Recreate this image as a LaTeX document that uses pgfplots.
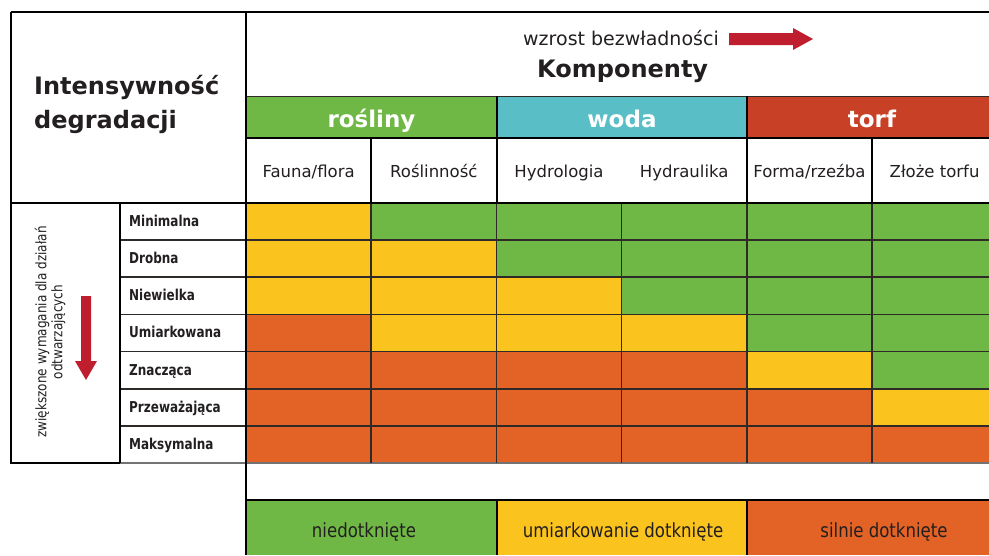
\documentclass[border=0pt]{standalone}
\usepackage{pgfplots}
\pgfplotsset{compat=1.18}
\usepackage{pgfplotstable}
\usepackage{graphicx}
\usepackage{fontspec}
\setmainfont{DejaVu Sans}
\definecolor{cgreen}{RGB}{111,184,69}
\definecolor{cyellow}{RGB}{250,195,29}
\definecolor{corange}{RGB}{226,99,37}
\definecolor{cteal}{RGB}{90,190,198}
\definecolor{cred}{RGB}{200,64,38}
\definecolor{carrow}{RGB}{190,30,45}
\definecolor{ctext}{RGB}{35,31,32}
\definecolor{cgrid}{RGB}{45,42,40}
\newcommand{\fs}[1]{\fontsize{#1}{#1}\selectfont}
\newcommand{\rowlab}[2]{\node[anchor=base west, inner sep=0pt, text=ctext, font=\bfseries\fs{15}] at (129,{203+37.14*(#1+0.5)+5}) {\scalebox{0.8}[1]{#2}};}
\newcommand{\colhead}[2]{\node[anchor=base, inner sep=0pt, text=ctext, font=\fs{16.5}] at (#1,177) {#2};}
% v: 0 = niedotknięte, 1 = umiarkowanie dotknięte, 2 = silnie dotknięte
\pgfplotstableread{
col row v
0 0 1
1 0 0
2 0 0
3 0 0
4 0 0
5 0 0
0 1 1
1 1 1
2 1 0
3 1 0
4 1 0
5 1 0
0 2 1
1 2 1
2 2 1
3 2 0
4 2 0
5 2 0
0 3 2
1 3 1
2 3 1
3 3 1
4 3 0
5 3 0
0 4 2
1 4 2
2 4 2
3 4 2
4 4 1
5 4 0
0 5 2
1 5 2
2 5 2
3 5 2
4 5 2
5 5 1
0 6 2
1 6 2
2 6 2
3 6 2
4 6 2
5 6 2
}\status
\begin{document}
\begin{tikzpicture}
\begin{axis}[
  scale only axis, width=989pt, height=555pt,
  xmin=0, xmax=989, ymin=0, ymax=555, y dir=reverse,
  hide axis, clip=true,
  colormap={status}{rgb255=(111,184,69) rgb255=(250,195,29) rgb255=(226,99,37)},
  colormap access=direct,
]
\path (0,0) rectangle (989,555);
\addplot[matrix plot*, mesh/cols=6, point meta=explicit]
  table[x expr={246+125.2*(\thisrow{col}+0.5)}, y expr={203+37.14*(\thisrow{row}+0.5)}, meta=v] {\status};

% header bands
\fill[cgreen] (246,96) rectangle (497,138);
\fill[cteal] (497,96) rectangle (747,138);
\fill[cred] (747,96) rectangle (989,138);
\draw[cgrid, line width=0.8pt] (246,96) -- (989,96);

% legend
\fill[cgreen] (246,500) rectangle (497,555);
\fill[cyellow] (497,500) rectangle (747,555);
\fill[corange] (747,500) rectangle (989,555);

% grid lines
\pgfplotsinvokeforeach{1,...,6}{
  \draw[cgrid, line width=1.6pt] (120,{203+37.14*#1}) -- (989,{203+37.14*#1});
}
\draw[black!55, line width=1.4pt] (120,463) -- (989,463);
\pgfplotsinvokeforeach{1,...,5}{
  \draw[cgrid, line width=1.6pt] ({246+125.2*#1},203) -- ({246+125.2*#1},463);
}

% black frame lines
\draw[black, line width=2.2pt] (11,12) -- (989,12);
\draw[black, line width=2.2pt] (11,12) -- (11,464);
\draw[black, line width=2.2pt] (10,463) -- (120,463);
\draw[black, line width=2.2pt] (246,12) -- (246,555);
\draw[black, line width=2.2pt] (11,203) -- (989,203);
\draw[black, line width=1.6pt] (120,203) -- (120,463);
\draw[black, line width=1.6pt] (246,138) -- (989,138);
\draw[black, line width=1.6pt] (497,96) -- (497,203);
\draw[black, line width=1.6pt] (747,96) -- (747,203);
\draw[black, line width=1.6pt] (371.2,138) -- (371.2,203);
\draw[black, line width=1.6pt] (872,138) -- (872,203);
\draw[black, line width=2.2pt] (246,500) -- (989,500);
\draw[black, line width=1.6pt] (497,500) -- (497,555);
\draw[black, line width=1.6pt] (747,500) -- (747,555);

% arrows
\fill[carrow] (729,33) -- (793,33) -- (793,28) -- (813,39) -- (793,50) -- (793,45) -- (729,45) -- cycle;
\fill[carrow] (81,296) -- (91,296) -- (91,361) -- (97,361) -- (86,380) -- (75,361) -- (81,361) -- cycle;

% titles
\node[anchor=base west, inner sep=0pt, text=ctext, font=\bfseries\fs{24}] at (34,94) {Intensywność};
\node[anchor=base west, inner sep=0pt, text=ctext, font=\bfseries\fs{24}] at (34,128) {degradacji};
\node[anchor=base west, inner sep=0pt, text=ctext, font=\fs{19}] at (523,45) {wzrost bezwładności};
\node[anchor=base west, inner sep=0pt, text=ctext, font=\bfseries\fs{24}] at (537,77) {Komponenty};

% band labels
\node[anchor=base, inner sep=0pt, text=white, font=\bfseries\fs{23}] at (371.5,127) {rośliny};
\node[anchor=base, inner sep=0pt, text=white, font=\bfseries\fs{23}] at (622,127) {woda};
\node[anchor=base, inner sep=0pt, text=white, font=\bfseries\fs{23}] at (872,127) {torf};

% column headers
\colhead{308.6}{Fauna/flora}
\colhead{433.8}{Roślinność}
\colhead{559}{Hydrologia}
\colhead{684.2}{Hydraulika}
\colhead{809.4}{Forma/rzeźba}
\colhead{934.6}{Złoże torfu}

% row labels
\rowlab{0}{Minimalna}
\rowlab{1}{Drobna}
\rowlab{2}{Niewielka}
\rowlab{3}{Umiarkowana}
\rowlab{4}{Znacząca}
\rowlab{5}{Przeważająca}
\rowlab{6}{Maksymalna}

% vertical label
\node[inner sep=0pt, text=ctext, font=\fs{14.5}] at (51,332) {\rotatebox{90}{\scalebox{0.83}[1]{\fontsize{14.5}{16}\selectfont\begin{tabular}{@{}c@{}}zwiększone wymagania dla działań\\odtwarzających\end{tabular}}}};

% legend labels
\node[anchor=base, inner sep=0pt, text=ctext, font=\fs{19.5}] at (364,537) {\scalebox{0.85}[1]{niedotknięte}};
\node[anchor=base, inner sep=0pt, text=ctext, font=\fs{19.5}] at (623,537) {\scalebox{0.85}[1]{umiarkowanie dotknięte}};
\node[anchor=base, inner sep=0pt, text=ctext, font=\fs{19.5}] at (884,537) {\scalebox{0.85}[1]{silnie dotknięte}};
\end{axis}
\end{tikzpicture}
\end{document}
